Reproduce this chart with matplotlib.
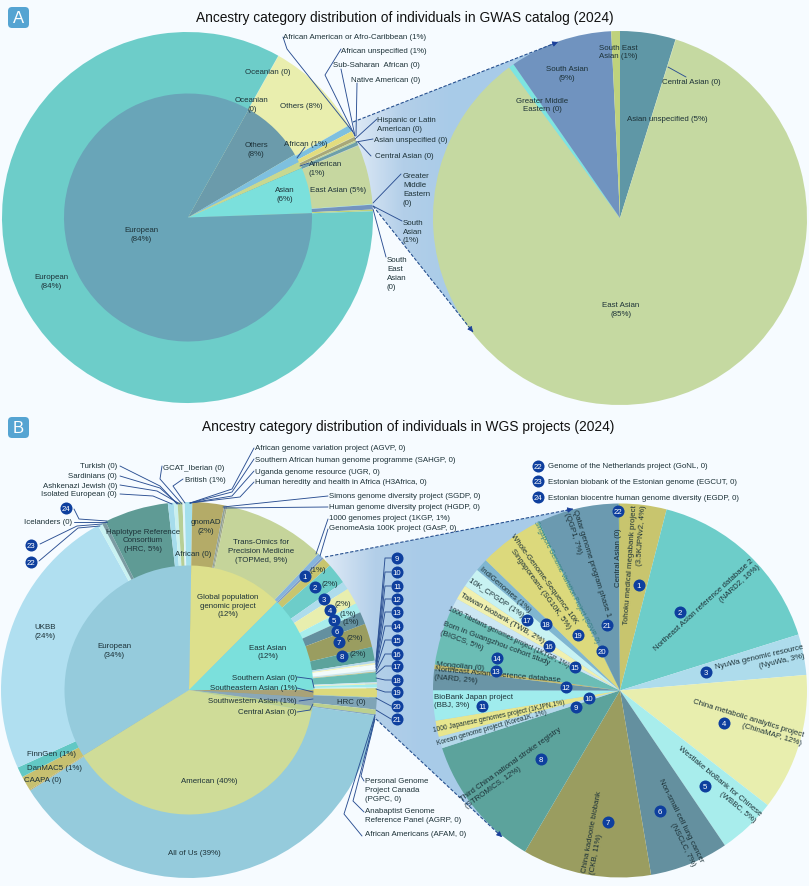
import numpy as np
import matplotlib
matplotlib.use("Agg")
import matplotlib.pyplot as plt
from matplotlib.colors import LinearSegmentedColormap
from matplotlib.patches import Polygon, FancyBboxPatch

plt.rcParams['font.family'] = ['Liberation Sans', 'DejaVu Sans']

W, H = 809, 887
BG = '#f6fbff'
INK = '#1d3238'
NAVY = '#2b4f92'
BADGE = '#0e3f9e'
FS = 5.65
FS_SMALL = 4.75

# ---- Panel A data (percent of individuals, clockwise) ----
a_inner_names = ['Others', 'African', 'American', 'Asian', 'European']
a_inner_vals = [8.39, 1.11, 0.83, 5.97, 83.7]
a_inner_cols = ['#6b9bab', '#7ec0df', '#c8d890', '#7be0dc', '#69a5b8']

a_outer_names = ['Oceanian', 'Others', 'African American or Afro-Caribbean', 'African unspecified',
                 'Sub-Saharan African', 'Native American', 'Hispanic or Latin American',
                 'Asian unspecified', 'Central Asian', 'East Asian', 'Greater Middle Eastern',
                 'South Asian', 'South East Asian', 'European']
a_outer_vals = [0.03, 8.58, 0.56, 0.50, 0.03, 0.33, 0.14, 0.31, 0.03, 5.22, 0.03, 0.42, 0.14, 83.7]
a_outer_cols = ['#e9eeae', '#e9eeae', '#7ec0df', '#e3dc7e', '#d8e6a0', '#a8a878', '#c3d59a',
                '#6d9fa8', '#7394bf', '#c6d7a0', '#7de5e0', '#7394bf', '#bfd27c', '#6dcdc9']

a_zoom_names = ['Asian unspecified', 'Central Asian', 'East Asian', 'Greater Middle Eastern',
                'South Asian', 'South East Asian']
a_zoom_vals = [4.8, 0.03, 85.1, 0.45, 8.9, 0.75]
a_zoom_cols = ['#5f97a6', '#c5d9a1', '#c5d9a1', '#7de5e0', '#7093bf', '#bfd27c']

# ---- Panel B data ----
b_inner_names = ['Global population genomic project', 'East Asian', 'Southern Asian', 'Southeastern Asian',
                 'Southwestern Asian', 'Central Asian', 'American', 'European']
b_inner_vals = [12.2, 12.5, 0.03, 0.95, 1.1, 0.7, 38.4, 34.1]
b_inner_cols = ['#dde08c', '#7be0dc', '#7be0dc', '#a9a278', '#8aa8b8', '#bcd08e', '#cfdc98', '#95cbdc']

b_outer_names = ['African', 'gnomAD', 'SGDP', 'HGDP', 'TOPMed', '1KGP', 'GAsP',
                 'Tohoku', 'NARD2', 'NyuWa', 'ChinaMAP', 'WBBC', 'NSCLC', 'CKB', 'STROMICS',
                 'Korea1K', '1KJPN', 'BBJ', 'NARD', 'Mongolian', 'BIGCS', '1KTGP', 'TWB', 'CPGDP',
                 'IndiGenomes', 'SG10K', 'SGVP', 'QGP', 'Central Asian',
                 'PGPC', 'AGRP', 'AFAM', 'All of Us', 'CAAPA', 'DanMAC5', 'FinnGen', 'UKBB',
                 'Icelanders', 'EGDP', 'HRC', 'Isolated European', 'Ashkenazi Jewish', 'Sardinians',
                 'GCAT_Iberian', 'British']
b_outer_vals = [0.28, 2.72, 0.15, 0.13, 8.81, 0.42, 0.19,
                0.78, 1.81, 0.69, 1.42, 0.83, 1.06, 2.03, 1.19,
                0.19, 0.14, 0.44, 0.17, 0.06, 0.83, 0.11, 0.08, 0.22,
                0.11, 0.78, 0.03, 1.00, 0.42,
                0.03, 0.03, 0.03, 38.86, 0.08, 1.25, 0.89, 23.72,
                0.39, 0.33, 5.53, 0.50, 0.33, 0.42, 0.19, 0.36]
b_outer_cols = ['#a3dfec', '#b4ab68', '#8fa09a', '#a2aa8a', '#c5d49a', '#86b4dc', '#7f9cc4',
                '#c8c56e', '#6dcdc9', '#aedcec', '#e8eeae', '#a8edec', '#64909f', '#9a9d60', '#5ca39c',
                '#b4d9ea', '#f4f4c0', '#f2fbfb', '#cfe7ee', '#c5bc6c', '#6bbdb5', '#cce6f3', '#f0f0b0', '#a0eced',
                '#c8f2f2', '#dcd97c', '#5cb0a9', '#7fa4b6', '#bcd08e',
                '#4f7fa8', '#4f7fa8', '#4f7fa8', '#95cbdc', '#b7a968', '#c7c070', '#62c8c4', '#b0dff0',
                '#c9f2f2', '#7a9ba2', '#5f9b95', '#a6dcec', '#c9f0ef', '#b7cf96', '#e0f5f8', '#a3dfec']

b_zoom_names = ['Tohoku', 'NARD2', 'NyuWa', 'ChinaMAP', 'WBBC', 'NSCLC', 'CKB', 'STROMICS', 'Korea1K',
                '1KJPN', 'BBJ', 'NARD', 'Mongolian', 'BIGCS', '1KTGP', 'TWB', 'CPGDP', 'IndiGenomes',
                'SG10K', 'SGVP', 'QGP', 'Central Asian']
b_zoom_vals = [4.0, 16.1, 3.5, 11.8, 5.0, 6.8, 11.1, 11.5, 1.0, 1.4, 2.6, 1.8, 0.4, 5.0, 0.9, 1.3, 1.7,
               1.1, 5.5, 0.1, 7.0, 0.1]
b_zoom_cols = ['#c8c56e', '#6dcdc9', '#aedcec', '#e8eeae', '#a8edec', '#64909f', '#9a9d60', '#5ca39c',
               '#b4d9ea', '#e7e68e', '#a0eced', '#6a95a6', '#c5bc6c', '#6bbdb5', '#cce6f3', '#f0f0b0',
               '#c8f2f2', '#80b6d0', '#dcd97c', '#5cb0a9', '#6b9ab0', '#b5c26a']

fig = plt.figure(figsize=(W / 100, H / 100), dpi=100, facecolor=BG)
ax = fig.add_axes([0, 0, 1, 1])


def Y(y):
    return H - y


def pie(vals, cols, cx, cy, r, start, z):
    wedges, _ = ax.pie(vals, colors=cols, center=(cx, Y(cy)), radius=r, startangle=start,
                       counterclock=False, wedgeprops={'linewidth': 0, 'zorder': z})
    for w in wedges:
        w.set_zorder(z)


def T(x, y, s, ha='center', va='center', fs=FS, color=INK, rot=0, ma=None, ls=1.36, **kw):
    ax.text(x, Y(y), s, ha=ha, va=va, fontsize=fs, color=color, rotation=rot, rotation_mode='anchor',
            multialignment=ma or ha, linespacing=ls, zorder=8, **kw)


def L(*pts, lw=0.65, color=NAVY):
    xs, ys = zip(*pts)
    ax.plot(xs, [Y(v) for v in ys], color=color, lw=lw, zorder=6, solid_capstyle='round')


def badge(x, y, s):
    ax.scatter([x], [Y(y)], s=75, color=BADGE, zorder=9, linewidths=0)
    ax.text(x, Y(y) - 0.2, s, color='white', ha='center', va='center', fontsize=5.6, zorder=10)


def band(pts):
    poly = Polygon([(x, Y(y)) for x, y in pts], closed=True, facecolor='none', edgecolor='none', zorder=1)
    ax.add_patch(poly)
    cmap = LinearSegmentedColormap.from_list('b', ['#dfeaf6', '#b3cfe9', '#a8cbe8'])
    xs = [p[0] for p in pts]
    ys = [Y(p[1]) for p in pts]
    im = ax.imshow(np.linspace(0, 1, 256).reshape(1, -1), cmap=cmap, aspect='auto', zorder=1,
                   extent=(min(xs), min(xs) + 100, min(ys), max(ys)))
    im2 = ax.imshow(np.ones((1, 2)), cmap=cmap, vmin=0, vmax=1, aspect='auto', zorder=1,
                    extent=(min(xs) + 100, max(xs), min(ys), max(ys)))
    im.set_clip_path(poly)
    im2.set_clip_path(poly)


def dashed(p0, p1):
    ax.plot([p0[0], p1[0]], [Y(p0[1]), Y(p1[1])], color='#27508f', lw=0.8, ls=(0, (3, 1.6)), zorder=5)
    t = 0.97
    mid = (p0[0] + (p1[0] - p0[0]) * t, Y(p0[1] + (p1[1] - p0[1]) * t))
    ax.annotate('', xy=(p1[0], Y(p1[1])), xytext=mid, zorder=7,
                arrowprops=dict(arrowstyle='-|>', color='#1a3f9a', lw=0.6, mutation_scale=8,
                                shrinkA=0, shrinkB=0))


def panel_tag(x, y, s):
    ax.add_patch(FancyBboxPatch((x + 3, Y(y) - 18), 15, 15, boxstyle='round,pad=3,rounding_size=4',
                                fc='#55a4d2', ec='none', zorder=5))
    ax.text(x + 10.5, Y(y) - 10.8, s, color='white', fontsize=12, ha='center', va='center', zorder=6)


# ================= Panel A =================
panel_tag(8, 8, 'A')
T(405, 18, 'Ancestry category distribution of individuals in GWAS catalog (2024)', fs=9.9, color='#111111')

band([(353, 123), (558, 43), (620, 219), (473, 333), (373, 207)])
pie(a_outer_vals, a_outer_cols, 187.5, 218.5, 185.5, 60.7, 2)
pie(a_inner_vals, a_inner_cols, 188, 218.5, 124, 60.7, 3)
pie(a_zoom_vals, a_zoom_cols, 620, 219, 187, 90, 4)
dashed((353, 123), (558, 43))
dashed((373, 207), (473, 333))

T(51, 282, 'European\n(84%)')
T(141, 235, 'European\n(84%)')
T(268, 72, 'Oceanian (0)')
T(252, 105, 'Oceanian\n(0)')
T(301, 106.5, 'Others (8%)')
T(256, 150, 'Others\n(8%)')
T(306, 145, 'African (1%)')
T(309, 169, 'American\n(1%)', ha='left')
T(285, 195, 'Asian\n(6%)')
T(338, 191, 'East Asian (5%)')
L((305, 148), (297, 159))
L((309, 164), (300, 167))

T(283, 37, 'African American or Afro-Caribbean (1%)', ha='left')
T(341, 51, 'African unspecified (1%)', ha='left')
T(333, 65, 'Sub-Saharan  African (0)', ha='left')
T(351, 80, 'Native American (0)', ha='left')
T(377, 125, 'Hispanic or Latin\nAmerican (0)', ha='left')
T(374, 140, 'Asian unspecified (0)', ha='left')
T(375, 157, 'Central Asian (0)', ha='left')
T(403, 190, 'Greater\nMiddle\nEastern\n(0)', ha='left')
T(403, 232, 'South\nAsian\n(1%)', ha='left')
T(387, 274, 'South\nEast\nAsian\n(0)', ha='left')
L((283, 38), (287, 50), (353, 133))
L((341, 50), (325, 76), (355, 137))
L((341, 70), (355, 137))
L((357, 84), (356, 137))
L((377, 120), (355, 140))
L((373, 140), (356, 143))
L((371, 157), (358, 143))
L((401, 175), (373, 204))
L((402, 222), (373, 207))
L((386, 258), (373, 210))

T(618, 52.5, 'South East\nAsian (1%)')
T(567, 74, 'South Asian\n(9%)')
T(542, 105.5, 'Greater Middle\nEastern (0)')
T(691, 82, 'Central Asian (0)')
T(667, 119, 'Asian unspecified (5%)')
T(621, 310, 'East Asian\n(85%)')
L((668, 68), (686, 78))

# ================= Panel B =================
panel_tag(8, 418, 'B')
T(408, 427, 'Ancestry category distribution of individuals in WGS projects (2024)', fs=9.9, color='#111111')

band([(325, 558), (573, 510), (620, 691), (502, 838), (376, 720)])
pie(b_outer_vals, b_outer_cols, 189, 691, 188, 90, 2)
pie(b_inner_vals, b_inner_cols, 189, 691, 124.5, 89, 3)
pie(b_zoom_vals, b_zoom_cols, 620, 691.5, 187, 90, 4)
dashed((325, 558), (573, 510))
dashed((376, 720), (502, 838))

for yy, s in zip([467, 477, 486, 495], ['Turkish (0)', 'Sardinians (0)', 'Ashkenazi Jewish (0)', 'Isolated European (0)']):
    T(117, yy, s, ha='right')
T(163, 468, 'GCAT_Iberian (0)', ha='left')
T(185, 481, 'British (1%)', ha='left')
L((120, 467), (160, 487), (177, 505))
L((120, 477), (160, 489), (178, 505))
L((120, 486), (157, 492), (180, 505))
L((120, 495), (153, 497), (172, 505))
L((162, 467), (160, 480), (182, 505))
L((183, 480), (173, 487), (185, 504))
for yy, s in zip([449, 460, 472, 483],
                 ['African genome variation project (AGVP, 0)', 'Southern African human genome programme (SAHGP, 0)',
                  'Uganda genome resource (UGR, 0)', 'Human heredity and health in Africa (H3Africa, 0)']):
    T(255, yy, s, ha='left')
L((254, 449), (232, 490), (190, 504))
L((254, 460), (232, 493), (190, 504))
L((254, 472), (232, 497), (190, 504))
L((254, 483), (240, 498), (190, 504))
for yy, s in zip([497, 508, 518, 529],
                 ['Simons genome diversity project (SGDP, 0)', 'Human genome diversity project (HGDP, 0)',
                  '1000 genomes project (1KGP, 1%)', 'GenomeAsia 100K project (GAsP, 0)']):
    T(329, yy, s, ha='left')
L((328, 497), (223, 508))
L((328, 508), (224, 509))
L((328, 520), (316, 555))
L((328, 530), (320, 557))

T(72, 523, 'Icelanders (0)', ha='right')
badge(66, 509, '24')
badge(31, 546, '23')
badge(31, 563, '22')
L((74, 523), (107, 523))
L((74, 510), (79, 520), (107, 522))
L((40, 545), (77, 527), (102, 525))
L((39, 562), (78, 529), (100, 527))

T(143, 541, 'Haplotype Reference\nConsortium\n(HRC, 5%)')
T(206, 527, 'gnomAD\n(2%)')
T(193, 554, 'African (0)')
T(261, 551.5, 'Trans-Omics for\nPrecision Medicine\n(TOPMed, 9%)')
T(45, 632, 'UKBB\n(24%)')
T(114, 651, 'European\n(34%)')
T(228, 606, 'Global population\ngenomic project\n(12%)')
T(268, 652.5, 'East Asian\n(12%)')
for yy, s in zip([679, 689, 702, 713],
                 ['Southern Asian (0)', 'Southeastern Asian (1%)', 'Southwestern Asian (1%)', 'Central Asian (0)']):
    T(297, yy, s, ha='right')
L((297, 678), (312, 680), (314, 689))
L((297, 689), (313, 693))
L((299, 702), (313, 700))
L((297, 713), (310, 711), (313, 705))
T(351, 703, 'HRC (0)')
T(209, 782, 'American (40%)')
T(194, 854, 'All of Us (39%)')
T(52, 755, 'FinnGen (1%)')
T(55, 769, 'DanMAC5 (1%)')
T(43, 781, 'CAAPA (0)')

T(365, 790.5, 'Personal Genome\nProject Canada\n(PGPC, 0)', ha='left')
T(365, 816, 'Anabaptist Genome\nReference Panel (AGRP, 0)', ha='left')
T(365, 835, 'African Americans (AFAM, 0)', ha='left')
L((364, 782), (361, 777), (375, 720))
L((364, 813), (353, 802), (375, 718))
L((362, 837), (344, 815), (375, 716))

# percent tags and badges along the East Asian ring
for x, y, s in [(318, 570, '(1%)'), (330, 585, '(2%)'), (343, 604, '(2%)'), (348, 614, '(1%)'),
                (351, 623, '(1%)'), (355, 638, '(2%)'), (358, 655, '(2%)')]:
    T(x, y, s)
for (x, y), s in zip([(305, 577), (315, 588), (324, 600), (330, 611), (334, 621), (337, 632), (339, 643), (342, 657)],
                     '12345678'):
    badge(x, y, s)

ring_y = [559, 573, 587, 600, 613, 627, 641, 655, 667, 681, 693, 707, 720]
ring_end = [662, 663, 665, 666, 668, 669, 671, 673, 675, 679, 690, 699, 711]
for i, (yy, ye) in enumerate(zip(ring_y, ring_end)):
    badge(397, yy, str(i + 9))
    if i < 11:
        L((391, yy), (385, yy), (376, ye))
    else:
        L((391, yy), (376, ye))

# right pie, panel B
for yy, s, n in zip([467, 482, 498],
                    ['Genome of the Netherlands project (GoNL, 0)', 'Estonian biobank of the Estonian genome (EGCUT, 0)',
                     'Estonian biocentre human genome diversity (EGDP, 0)'], ['22', '23', '24']):
    badge(538, yy, n)
    T(548, yy, s, ha='left')

for (x, y), s in zip([(639, 586), (680, 613), (706, 673), (724, 724), (705, 787), (660, 812), (608, 823), (541, 760),
                      (576, 708), (589, 699), (482, 707), (566, 688), (496, 672), (497, 659), (575, 668), (549, 647),
                      (527, 621), (546, 625), (578, 636), (602, 652), (607, 626), (618, 512)],
                     [str(i) for i in range(1, 23)]):
    badge(x, y, s)

T(635, 565, 'Tohoku medical megabank project\n(3.5KJPNv2, 4%)', rot=86, ma='right')
T(619, 558, 'Central Asian (0)', rot=90)
T(707, 608, 'Northeast Asian reference database 2\n(NARD2, 16%)', rot=42.5, ma='right')
T(760, 662, 'NyuWa genomic resource\n(NyuWa, 3%)', rot=13, ma='right')
T(747, 723, 'China metabolic analytics project\n(ChinaMAP, 12%)', rot=-17, ma='right')
T(717, 785, 'Westlake bioBank for Chinese\n(WBBC, 5%)', rot=-39.5, ma='right')
T(677, 823, 'Non-small cell lung cancer\n(NSCLC, 7%)', rot=-63.5, ma='right')
T(596, 833, 'China kadoorie biobank\n(CKB, 11%)', rot=79.5, ma='left')
T(513, 768, 'Third China national stroke registry\n(STROMICS, 12%)', rot=35.5, ma='left')
T(492, 728, 'Korean genome project (Korea1K, 1%)', rot=16, fs=FS_SMALL)
T(499, 717, '1000 Japanese genomes project (1KJPN,1%)', rot=12, fs=FS_SMALL)
T(434, 701.5, 'BioBank Japan project\n(BBJ, 3%)', ha='left')
T(497, 679, 'Northeast Asian reference database\n(NARD, 2%)', rot=-5, ma='left')
T(460, 667, 'Mongolian (0)', rot=-5)
T(495, 648, 'Born in Guangzhou cohort study\n(BIGCS, 5%)', rot=-20.5, ma='left')
T(509, 637, '1000 Tibetans genomes project (1KTGP, 1%)', rot=-25.5, fs=FS_SMALL)
T(502, 618, 'Taiwan biobank (TWB, 2%)', rot=-29.5)
T(496, 598, '10K_CPGDP (1%)', rot=-34)
T(505, 590, 'IndiGenomes (1%)', rot=-41)
T(540, 582, 'Whole-Genome-Sequence 10K\nSingaporeans (SG10K, 5%)', rot=-54, ma='right')
T(566, 582, 'Singapore Genome Variation Project (SGVP, 0)', rot=-63, fs=4.7, color='#2f7f7f')
T(587, 565, 'Qatar genome program phase 1\n(QGP1, 7%)', rot=-72.5, ma='left')

ax.set_xlim(0, W)
ax.set_ylim(0, H)
ax.set_aspect('auto')
ax.set_axis_off()
fig.savefig('out.png', dpi=100, facecolor=BG)
